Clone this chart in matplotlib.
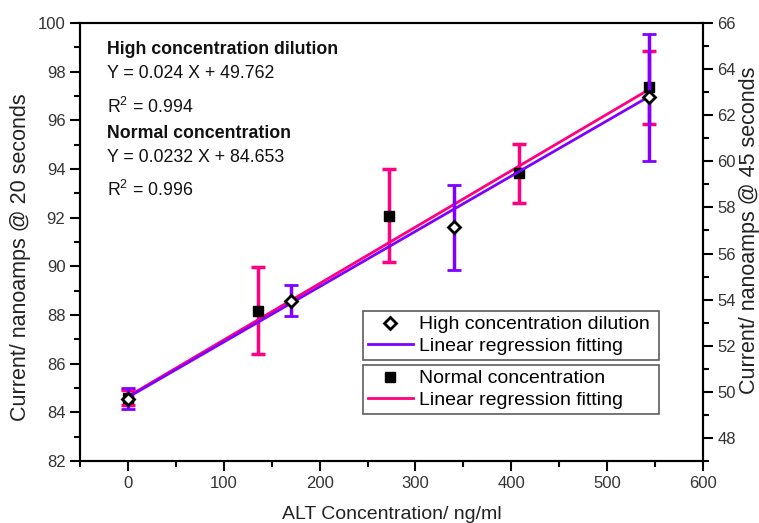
import numpy as np
import matplotlib
matplotlib.use("Agg")
import matplotlib.pyplot as plt
from matplotlib.lines import Line2D

plt.rcParams['font.family'] = ['Liberation Sans', 'DejaVu Sans']
plt.rcParams['mathtext.fontset'] = 'custom'
plt.rcParams['mathtext.rm'] = 'Liberation Sans'

# Normal concentration (left axis, current @ 20 s)
normal_x = [0, 136, 272, 408, 544]
normal_y = [84.6, 88.18, 92.08, 93.82, 97.35]
normal_err = [0.3, 1.8, 1.9, 1.2, 1.5]
normal_slope, normal_icpt = 0.0232, 84.653

# High concentration dilution (right axis, current @ 45 s)
high_x = [0, 170, 340, 544]
high_y = [49.7, 53.96, 57.13, 62.78]
high_err = [0.45, 0.67, 1.83, 2.76]
high_slope, high_icpt = 0.024, 49.762

purple = '#8000ff'
pink = '#ff0080'

fig = plt.figure(figsize=(7.59, 5.23), dpi=100)
ax = fig.add_axes([80/759, 1-461/523, 623/759, 438/523])
ax2 = ax.twinx()

# fitted lines
xf = np.array([0, 544])
ax.plot(xf, normal_slope*xf + normal_icpt, color=pink, lw=2, zorder=2)
ax2.plot(xf, high_slope*xf + high_icpt, color=purple, lw=2, zorder=2)

# data with error bars
ax.errorbar(normal_x, normal_y, yerr=normal_err, fmt='s', color='black', ms=7,
            ecolor=pink, elinewidth=2.5, capsize=5, capthick=2.5, zorder=3)
ax2.errorbar(high_x, high_y, yerr=high_err, fmt='D', mfc='white', mec='black', mew=2,
             ms=6, ecolor=purple, elinewidth=2.5, capsize=5, capthick=2.5, zorder=3)

ax.set_xlim(-50, 600)
ax.set_ylim(82, 100)
ax2.set_ylim(47, 66)

ax.set_xticks(range(0, 601, 100))
ax.set_xticks(range(-50, 601, 50), minor=True)
ax.set_yticks(range(82, 101, 2))
ax.set_yticks(range(82, 101, 1), minor=True)
ax2.set_yticks(range(48, 67, 2))
ax2.set_yticks(range(47, 67, 1), minor=True)

for a in (ax, ax2):
    a.tick_params(which='major', direction='out', length=7, width=1.5, labelsize=12, labelcolor='#333333')
    a.tick_params(which='minor', direction='out', length=4, width=1.5)
    for s in a.spines.values():
        s.set_linewidth(1.5)

ax.set_xlabel('ALT Concentration/ ng/ml', fontsize=14, color='#222222', labelpad=11)
ax.set_ylabel('Current/ nanoamps @ 20 seconds', fontsize=15.5, color='#222222')
ax2.set_ylabel('Current/ nanoamps @ 45 seconds', fontsize=15.5, color='#222222')
ax.yaxis.set_label_coords((31-80)/623, 0.466)
ax2.yaxis.set_label_coords(1+(739-703)/623, 0.527)

# equations
txt = [
    (50, 'High concentration dilution', 'bold'),
    (73, 'Y = 0.024 X + 49.762', 'normal'),
    (107, r'R$^2$ = 0.994', 'normal'),
    (134, 'Normal concentration', 'bold'),
    (158, 'Y = 0.0232 X + 84.653', 'normal'),
    (190, r'R$^2$ = 0.996', 'normal'),
]
for ypix, s, w in txt:
    fig.text(107/759, 1-ypix/523, s, fontsize=12.8, fontweight=w, va='center', ha='left',
             color='#111111')

h1 = [Line2D([], [], ls='none', marker='D', mfc='white', mec='black', mew=2, ms=6),
      Line2D([], [], color=purple, lw=2)]
h2 = [Line2D([], [], ls='none', marker='s', color='black', ms=7),
      Line2D([], [], color=pink, lw=2)]
leg_kw = dict(fontsize=14, frameon=True, fancybox=False, edgecolor='#333333',
              handlelength=2.3, handletextpad=0.35, borderpad=0.25, labelspacing=0.2,
              borderaxespad=0, bbox_transform=fig.transFigure, loc='upper left',
              mode='expand')
w = (659-363)/759
leg1 = ax2.legend(h1, ['High concentration dilution', 'Linear regression fitting'],
                  bbox_to_anchor=(363/759, 1-362/523, w, 51/523), **leg_kw)
leg1.get_frame().set_linewidth(1.2)
ax2.add_artist(leg1)
leg2 = ax2.legend(h2, ['Normal concentration', 'Linear regression fitting'],
                  bbox_to_anchor=(363/759, 1-414/523, w, 49/523), **leg_kw)
leg2.get_frame().set_linewidth(1.2)

fig.savefig('out.png', dpi=100)
